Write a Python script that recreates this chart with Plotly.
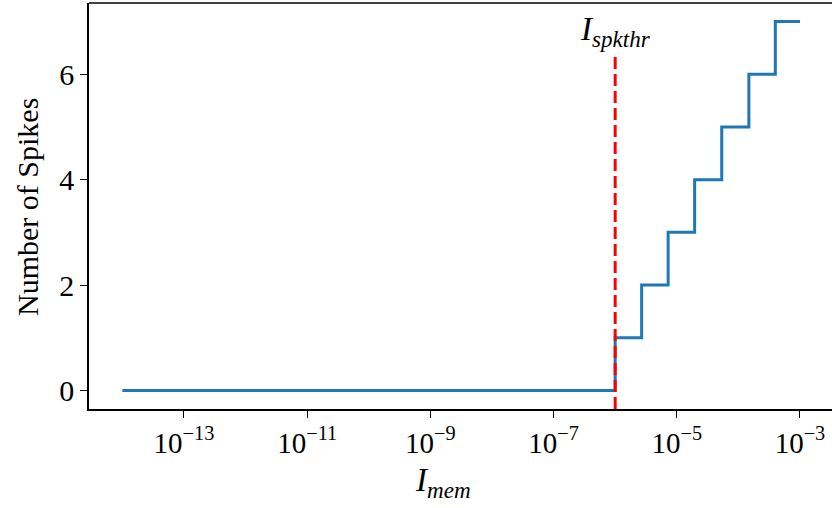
import plotly.graph_objects as go

# Step function data: membrane current (A) where each spike count begins
I_mem = [1e-14, 1e-6, 2.69e-6, 7.24e-6, 1.95e-5, 5.37e-5, 1.48e-4, 3.98e-4, 1e-3]
n_spikes = [0, 1, 2, 3, 4, 5, 6, 7, 7]

I_spkthr = 1e-6
thr_y = [-0.35, 6.36]

x_tickvals = [1e-13, 1e-11, 1e-9, 1e-7, 1e-5, 1e-3]
x_ticktext = ["10<sup>−13</sup>", "10<sup>−11</sup>", "10<sup>−9</sup>",
              "10<sup>−7</sup>", "10<sup>−5</sup>", "10<sup>−3</sup>"]
y_tickvals = [0, 2, 4, 6]

FONT = "Liberation Serif"

fig = go.Figure()
fig.add_trace(go.Scatter(
    x=I_mem, y=n_spikes, mode="lines", line_shape="hv",
    line=dict(color="#1f77b4", width=3), showlegend=False))
fig.add_trace(go.Scatter(
    x=[I_spkthr, I_spkthr], y=thr_y, mode="lines",
    line=dict(color="red", width=3, dash="12px,5px"), showlegend=False))

fig.update_layout(
    width=832, height=508,
    margin=dict(l=89, r=0, t=3, b=99),
    plot_bgcolor="white", paper_bgcolor="white",
    font=dict(family=FONT, size=28, color="black"),
    xaxis=dict(type="log", range=[-14.542, -2.48], automargin=False,
               tickvals=x_tickvals, ticktext=x_ticktext,
               ticks="outside", ticklen=7, tickwidth=1.3, tickcolor="black",
               showline=True, linecolor="black", linewidth=1.5,
               showgrid=False, zeroline=False, tickfont=dict(size=29)),
    yaxis=dict(range=[-0.35, 7.35], tickvals=y_tickvals, automargin=False,
               ticks="outside", ticklen=7, tickwidth=1.3, tickcolor="black",
               showline=True, linecolor="black", linewidth=1.5,
               showgrid=False, zeroline=False, tickfont=dict(size=30)),
    shapes=[dict(type="line", xref="paper", yref="paper", x0=0, x1=1, y0=1, y1=1,
                 line=dict(color="black", width=1.5))],
    annotations=[
        dict(text="<i>I</i><sub><i>spkthr</i></sub>", x=-6, xref="x", y=0.93, yref="paper",
             showarrow=False, xanchor="center", yanchor="middle",
             font=dict(family=FONT, size=33)),
        dict(text="<i>I</i><sub><i>mem</i></sub>", x=443, y=482,
             showarrow=False, font=dict(family=FONT, size=33)),
        dict(text="Number of Spikes", x=27, y=207, textangle=-90,
             showarrow=False, font=dict(family=FONT, size=30)),
    ],
)
# convert pixel positions for the axis-title annotations to paper coords
W0, W1, H0, H1 = 89, 832, 3, 409
for a in fig.layout.annotations[1:]:
    a.x = (a.x - W0) / (W1 - W0)
    a.y = (H1 - a.y) / (H1 - H0)
    a.xref = "paper"; a.yref = "paper"
    a.xanchor = "center"; a.yanchor = "middle"

fig.write_html("out.html", config={"displayModeBar": False},
               post_script="document.body.style.margin='0';document.body.style.overflow='hidden';")
